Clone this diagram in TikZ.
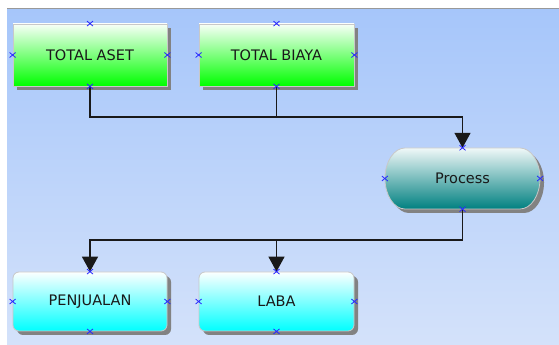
\documentclass[tikz,border=0pt]{standalone}
\usepackage{fontspec}
\setmainfont{DejaVu Sans}
\usetikzlibrary{arrows.meta,shadows}
\definecolor{bgtop}{RGB}{166,198,250}
\definecolor{bgbot}{RGB}{212,226,250}
\definecolor{boxborder}{RGB}{200,200,200}
\definecolor{shadowgray}{RGB}{130,130,130}
\definecolor{greenbot}{RGB}{0,255,0}
\definecolor{greentop}{RGB}{248,255,248}
\definecolor{cyanbot}{RGB}{0,255,255}
\definecolor{cyantop}{RGB}{252,255,255}
\definecolor{tealbot}{RGB}{0,128,128}
\definecolor{tealtop}{RGB}{240,248,248}
\definecolor{markblue}{RGB}{40,40,255}
\definecolor{linecol}{RGB}{25,25,25}
\tikzset{
  box/.style={minimum width=154pt, minimum height=62pt, inner sep=0pt,
    draw=boxborder, line width=0.8pt, text=black!90,
    font=\fontsize{14.5}{17}\selectfont,
    drop shadow={shadow xshift=4pt, shadow yshift=-4pt, fill=shadowgray, opacity=1}},
  greenbox/.style={box, top color=greentop, bottom color=greenbot},
  cyanbox/.style={box, minimum height=59pt, rounded corners=6pt, top color=cyantop, bottom color=cyanbot},
  procnode/.style={minimum width=155pt, minimum height=61pt, inner sep=0pt, text=black!90,
    font=\fontsize{14.5}{17}\selectfont},
  conn/.style={draw=linecol, line width=1.4pt},
  arr/.style={conn, -{Triangle[width=16pt,length=15pt]}},
  xmark/.style={draw=markblue, line width=0.8pt},
}
\begin{document}
\begin{tikzpicture}[x=1pt,y=1pt]
\useasboundingbox (0,0) rectangle (559,345);
% background
\fill[white] (0,0) rectangle (559,345);
\shade[top color=bgtop, bottom color=bgbot] (7,0) rectangle (559,336);
\draw[draw=black!40, line width=1.5pt] (7,336.5) -- (559,336.5);
% process shape (stadium with elliptical ends)
\fill[shadowgray] (409,193) -- (524,193) arc[start angle=90, end angle=-90, x radius=20, y radius=30.5]
  -- (409,132) arc[start angle=270, end angle=90, x radius=20, y radius=30.5] -- cycle;
\shade[top color=tealtop, bottom color=tealbot, draw=boxborder, line width=0.8pt]
  (405,197) -- (520,197) arc[start angle=90, end angle=-90, x radius=20, y radius=30.5]
  -- (405,136) arc[start angle=270, end angle=90, x radius=20, y radius=30.5] -- cycle;
% nodes
\node[greenbox] (aset) at (90,290) {TOTAL ASET};
\node[greenbox, minimum width=155pt] (biaya) at (276.5,290) {TOTAL BIAYA};
\node[procnode] (proc) at (462.5,166.5) {Process};
\node[cyanbox] (penj) at (90,43.5) {PENJUALAN};
\node[cyanbox, minimum width=155pt] (laba) at (276.5,43.5) {LABA};
% connectors
\coordinate (j1) at (462.5,228);
\coordinate (j2) at (462.5,105);
\draw[arr] (aset.south) |- (j1) -- (proc.north);
\draw[conn] (biaya.south) -- (biaya.south |- j1);
\draw[conn] (proc.south) -- (j2);
\draw[arr] (j2) -| (penj.north);
\draw[arr] (laba.north |- j2) -- (laba.north);
% connection point markers
\foreach \n in {aset,biaya,proc,penj,laba}
  \foreach \a in {north,south,east,west}
    \draw[xmark] (\n.\a) +(-3,-2.5) -- +(3,2.5) +(-3,2.5) -- +(3,-2.5);
\end{tikzpicture}
\end{document}
